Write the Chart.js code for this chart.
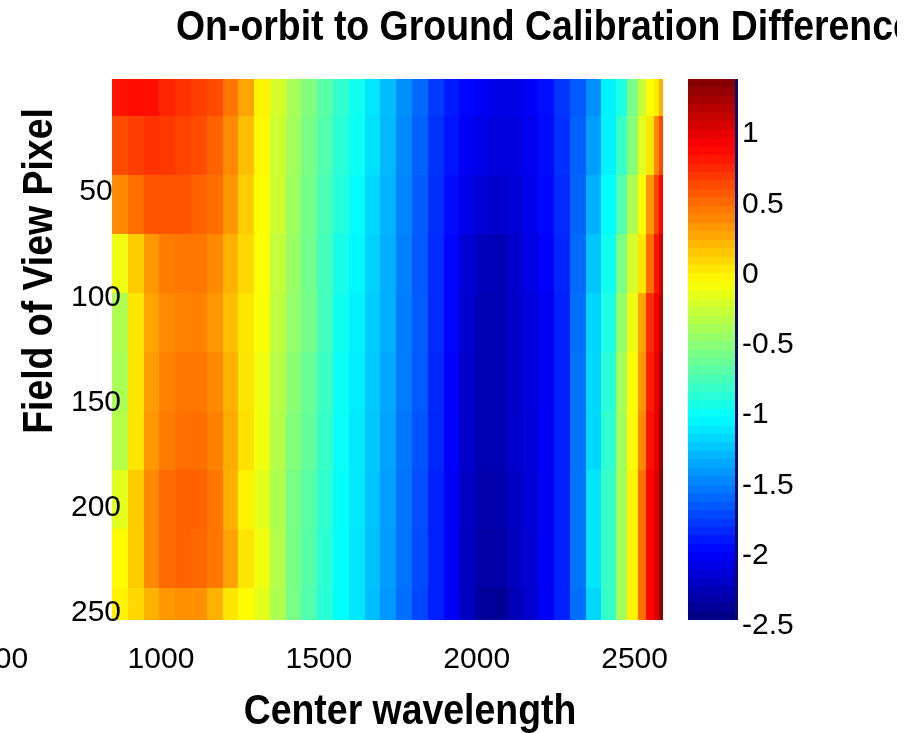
<!DOCTYPE html>
<html>
<head>
<meta charset="utf-8">
<script src="https://cdn.jsdelivr.net/npm/chart.js@4.4.1/dist/chart.umd.min.js"></script>
<style>
  html, body { margin: 0; padding: 0; background: #fff; }
  #wrap { width: 897px; height: 733px; overflow: hidden; }
</style>
</head>
<body>
<div id="wrap"><canvas id="calChart" width="920" height="733"></canvas></div>
<script>
// centre wavelength of each column (nm)
var wavelengths = [870, 920, 970, 1020, 1070, 1120, 1170, 1220, 1270, 1320, 1370, 1420, 1470, 1520,
  1570, 1620, 1670, 1720, 1770, 1820, 1870, 1920, 1970, 2020, 2070, 2120, 2170, 2220, 2270, 2320,
  2370, 2420, 2460, 2495, 2525, 2550, 2570, 2585];
// field of view pixel at the centre of each row
var fovRows = [0, 28, 56, 84, 112, 140, 168, 196, 224, 252];

// on-orbit minus ground calibration, one array per row
var diffRow0 = [0.80, 0.82, 0.82, 0.73, 0.68, 0.63, 0.58, 0.42, 0.25, -0.05, -0.25, -0.42, -0.57, -0.72, -0.87, -1.00, -1.15, -1.30, -1.48, -1.62, -1.80, -1.92, -2.00, -2.06, -2.12, -2.12, -2.05, -1.97, -1.82, -1.68, -1.48, -1.10, -0.95, -0.60, -0.30, -0.10, -0.02, 0.20];
var diffRow1 = [0.58, 0.63, 0.68, 0.66, 0.62, 0.58, 0.50, 0.35, 0.15, -0.07, -0.28, -0.45, -0.60, -0.75, -0.90, -1.02, -1.17, -1.32, -1.50, -1.65, -1.83, -1.95, -2.05, -2.12, -2.16, -2.14, -2.07, -1.98, -1.84, -1.66, -1.42, -1.10, -0.85, -0.55, -0.20, 0.00, 0.35, 0.60];
var diffRow2 = [0.35, 0.45, 0.55, 0.55, 0.55, 0.50, 0.45, 0.30, 0.10, -0.09, -0.28, -0.46, -0.62, -0.78, -0.93, -1.05, -1.20, -1.34, -1.52, -1.67, -1.85, -1.98, -2.10, -2.18, -2.22, -2.18, -2.10, -2.00, -1.86, -1.64, -1.35, -1.05, -0.75, -0.40, -0.10, 0.30, 0.60, 0.85];
var diffRow3 = [-0.15, 0.10, 0.30, 0.40, 0.42, 0.42, 0.35, 0.20, 0.05, -0.10, -0.32, -0.48, -0.63, -0.80, -0.97, -1.08, -1.23, -1.36, -1.54, -1.68, -1.86, -2.00, -2.18, -2.28, -2.30, -2.22, -2.13, -2.02, -1.88, -1.62, -1.28, -1.00, -0.60, -0.25, 0.00, 0.45, 0.80, 1.05];
var diffRow4 = [-0.40, 0.00, 0.25, 0.35, 0.38, 0.38, 0.30, 0.15, 0.00, -0.12, -0.33, -0.50, -0.62, -0.80, -1.00, -1.10, -1.25, -1.36, -1.55, -1.67, -1.86, -2.00, -2.20, -2.30, -2.30, -2.22, -2.15, -2.05, -1.90, -1.60, -1.22, -0.95, -0.50, -0.15, 0.25, 0.70, 0.90, 1.15];
var diffRow5 = [-0.42, 0.00, 0.28, 0.38, 0.42, 0.42, 0.35, 0.20, 0.00, -0.15, -0.36, -0.53, -0.66, -0.83, -1.02, -1.12, -1.26, -1.38, -1.56, -1.68, -1.87, -2.02, -2.22, -2.30, -2.30, -2.22, -2.15, -2.05, -1.90, -1.58, -1.20, -0.90, -0.45, -0.10, 0.30, 0.75, 0.95, 1.20];
var diffRow6 = [-0.37, 0.00, 0.30, 0.40, 0.45, 0.45, 0.38, 0.22, 0.02, -0.15, -0.38, -0.56, -0.68, -0.85, -1.03, -1.13, -1.27, -1.40, -1.57, -1.70, -1.88, -2.03, -2.22, -2.30, -2.30, -2.22, -2.16, -2.05, -1.90, -1.58, -1.20, -0.88, -0.45, -0.08, 0.35, 0.80, 0.95, 1.25];
var diffRow7 = [-0.20, 0.10, 0.35, 0.47, 0.50, 0.50, 0.42, 0.20, -0.05, -0.20, -0.40, -0.60, -0.72, -0.88, -1.04, -1.14, -1.28, -1.42, -1.58, -1.72, -1.90, -2.05, -2.24, -2.32, -2.32, -2.24, -2.17, -2.05, -1.90, -1.58, -1.15, -0.85, -0.45, -0.05, 0.45, 0.85, 1.00, 1.30];
var diffRow8 = [-0.08, 0.10, 0.35, 0.47, 0.50, 0.48, 0.42, 0.25, 0.00, -0.15, -0.38, -0.60, -0.73, -0.89, -1.05, -1.15, -1.29, -1.43, -1.59, -1.74, -1.90, -2.05, -2.25, -2.35, -2.36, -2.26, -2.18, -2.05, -1.90, -1.58, -1.15, -0.85, -0.45, -0.05, 0.45, 0.85, 1.00, 1.30];
var diffRow9 = [-0.05, 0.05, 0.20, 0.30, 0.32, 0.32, 0.20, 0.00, -0.09, -0.20, -0.40, -0.60, -0.75, -0.90, -1.05, -1.15, -1.30, -1.45, -1.60, -1.75, -1.90, -2.05, -2.25, -2.40, -2.42, -2.30, -2.20, -2.05, -1.90, -1.60, -1.20, -0.85, -0.45, -0.05, 0.45, 0.85, 1.00, 1.30];
var calDiff = [diffRow0, diffRow1, diffRow2, diffRow3, diffRow4, diffRow5, diffRow6, diffRow7, diffRow8, diffRow9];

// tick labels
var xTicks = [500, 1000, 1500, 2000, 2500];
var yTicks = [50, 100, 150, 200, 250];
var cbTicks = [-2.5, -2, -1.5, -1, -0.5, 0, 0.5, 1];
var cbMin = -2.5, cbMax = 1.35;

var fam = "'Liberation Sans', Arial, sans-serif";

// matlab jet colormap
function jet(t) {
  t = Math.max(0, Math.min(1, t));
  function c(v) { return Math.round(255 * Math.max(0, Math.min(1, v))); }
  return 'rgb(' + c(1.5 - Math.abs(4 * t - 3)) + ',' + c(1.5 - Math.abs(4 * t - 2)) + ',' + c(1.5 - Math.abs(4 * t - 1)) + ')';
}

// cell edges half way between centres
function edges(c) {
  var n = c.length, e = [c[0] - (c[1] - c[0]) / 2];
  for (var i = 0; i < n - 1; i++) e.push((c[i] + c[i + 1]) / 2);
  e.push(c[n - 1] + (c[n - 1] - c[n - 2]) / 2);
  return e;
}

var points = [];
fovRows.forEach(function (p, i) {
  wavelengths.forEach(function (w, j) {
    points.push({ x: w, y: p, v: calDiff[i][j], i: i, j: j });
  });
});

// narrow bold text like the original figure
function condensedText(ctx, text, x, y, rot, align) {
  ctx.save();
  ctx.translate(x, y);
  ctx.rotate(rot);
  ctx.scale(0.87, 1);
  ctx.textAlign = align;
  ctx.fillText(text, 0, 0);
  ctx.restore();
}

// paint each point as a cell, sized by the scales
var heatCells = {
  id: 'heatCells',
  beforeDatasetsDraw: function (chart) {
    var ctx = chart.ctx, xs = chart.scales.x, ys = chart.scales.y, a = chart.chartArea;
    var xe = edges(wavelengths), ye = edges(fovRows);
    ctx.save();
    ctx.beginPath();
    ctx.rect(a.left, a.top, a.right - a.left, a.bottom - a.top);
    ctx.clip();
    chart.data.datasets[0].data.forEach(function (p) {
      var x0 = Math.round(xs.getPixelForValue(xe[p.j])), x1 = Math.round(xs.getPixelForValue(xe[p.j + 1]));
      var y0 = Math.round(ys.getPixelForValue(ye[p.i])), y1 = Math.round(ys.getPixelForValue(ye[p.i + 1]));
      ctx.fillStyle = jet((p.v - cbMin) / (cbMax - cbMin));
      ctx.fillRect(x0, Math.min(y0, y1), x1 - x0, Math.abs(y1 - y0));
    });
    ctx.restore();

    // colour bar along the cb scale
    var cb = chart.scales.cb, n = 64, step = (cbMax - cbMin) / n;
    var bx = cb.left + 25, bw = 47;
    for (var k = 0; k < n; k++) {
      var yt = Math.round(cb.getPixelForValue(cbMin + (k + 1) * step));
      var yb = Math.round(cb.getPixelForValue(cbMin + k * step));
      ctx.fillStyle = jet((k + 0.5) / n);
      ctx.fillRect(bx, yt, bw, yb - yt);
    }
    ctx.fillStyle = '#0b0b6b';
    ctx.fillRect(bx + bw, cb.top, 3, cb.bottom - cb.top);
  },
  afterDraw: function (chart) {
    var ctx = chart.ctx;
    ctx.save();
    ctx.fillStyle = '#000';
    ctx.textBaseline = 'middle';
    ctx.font = 'bold 43px ' + fam;
    condensedText(ctx, 'On-orbit to Ground Calibration Difference', 176, 28, 0, 'left');
    condensedText(ctx, 'Center wavelength', 410, 712, 0, 'center');
    condensedText(ctx, 'Field of View Pixel', 40, 271, -Math.PI / 2, 'center');
    ctx.restore();
  }
};

function fixTicks(list) {
  return function (s) { s.ticks = list.map(function (v) { return { value: v }; }); };
}

var ctx = document.getElementById('calChart').getContext('2d');
var myChart = new Chart(ctx, {
  type: 'scatter',
  data: {
    datasets: [{
      label: 'calibration difference',
      data: points,
      pointRadius: 0,
      pointHoverRadius: 0
    }]
  },
  options: {
    responsive: false,
    animation: false,
    devicePixelRatio: 1,
    events: [],
    layout: { padding: { top: 79, left: 0, right: 0, bottom: 0 } },
    plugins: {
      legend: { display: false },
      tooltip: { enabled: false },
      title: { display: false }
    },
    scales: {
      x: {
        type: 'linear', position: 'bottom', min: 845, max: 2590,
        grid: { display: false, drawTicks: false },
        border: { display: false },
        afterBuildTicks: fixTicks(xTicks),
        afterFit: function (s) { s.height = 113; s.paddingLeft = 0; s.paddingRight = 0; },
        ticks: {
          z: 1, autoSkip: false, maxRotation: 0, padding: 25, color: '#000',
          font: { family: fam, size: 30, lineHeight: 1 },
          callback: function (v) { return String(v); }
        }
      },
      y: {
        type: 'linear', position: 'left', reverse: true, min: -3.7, max: 253.3,
        grid: { display: false, drawTicks: false },
        border: { display: false },
        afterBuildTicks: fixTicks(yTicks),
        afterFit: function (s) { s.width = 112; s.paddingTop = 0; s.paddingBottom = 0; },
        ticks: {
          // mirror so the labels are not clipped and may overlap the image
          z: 1, mirror: true, autoSkip: false, crossAlign: 'center', padding: -41, color: '#000',
          font: { family: fam, size: 30, lineHeight: 1 },
          callback: function (v) { return String(v); }
        }
      },
      cb: {
        type: 'linear', axis: 'y', position: 'right', min: cbMin, max: cbMax,
        grid: { display: false, drawTicks: false },
        border: { display: false },
        afterBuildTicks: fixTicks(cbTicks),
        afterFit: function (s) { s.width = 257; s.paddingTop = 0; s.paddingBottom = 0; },
        ticks: {
          z: 1, autoSkip: false, padding: 79, labelOffset: 6, color: '#000',
          font: { family: fam, size: 30, lineHeight: 1 },
          callback: function (v) { return String(v); }
        }
      }
    }
  },
  plugins: [heatCells]
});
</script>
</body>
</html>
